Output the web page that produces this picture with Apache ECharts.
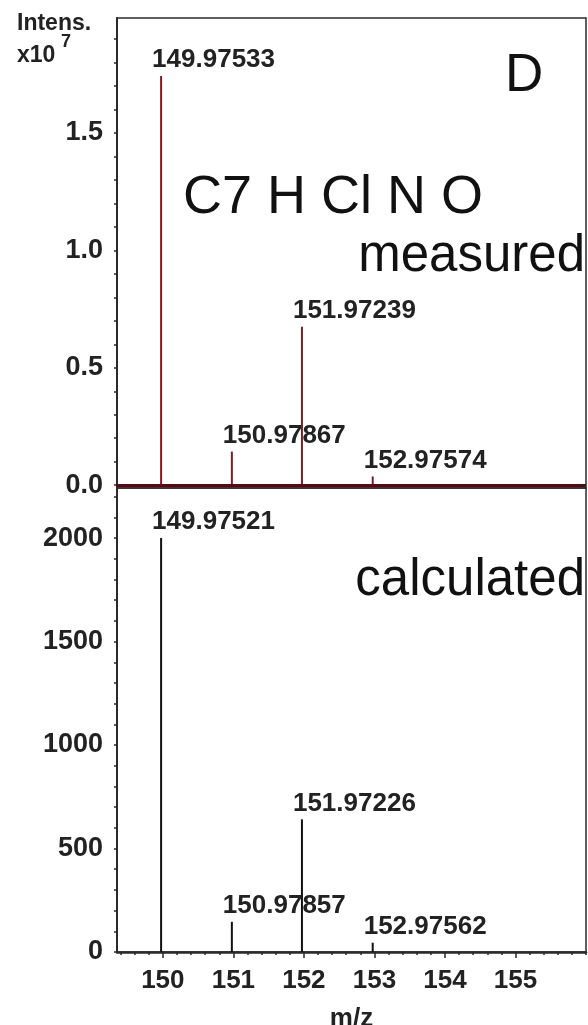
<!DOCTYPE html>
<html>
<head>
<meta charset="utf-8">
<script src="https://cdn.jsdelivr.net/npm/echarts@6/dist/echarts.min.js"></script>
<style>
html,body{margin:0;padding:0;background:#fff;}
#chart{width:588px;height:1025px;}
</style>
</head>
<body>
<div id="chart"></div>
<script>
// ---- data ----
const mzMeasured = [149.97533, 150.97867, 151.97239, 152.97574];
const intMeasured = [1.743, 0.143, 0.675, 0.037]; // x10^7
const mzCalculated = [149.97521, 150.97857, 151.97226, 152.97562];
const intCalculated = [2000, 146, 641, 45];
const xTickLabels = [150, 151, 152, 153, 154, 155];
const yTopTickLabels = [0.0, 0.5, 1.0, 1.5];
const yBottomTickLabels = [0, 500, 1000, 1500, 2000];

// ---- helpers ----
function steps(a, b, s) { const r = []; for (let i = 0; a + i * s <= b + 1e-9; i++) r.push(+(a + i * s).toFixed(4)); return r; }
const X_MIN = 149.35, X_MAX = 156.0;
const FONT = '"Liberation Sans", Arial, sans-serif';
const TXT = '#222';
const AX = '#2a2a2a';

const chart = echarts.init(document.getElementById('chart'), null, {renderer: 'canvas'});
const labelCfg = {
  show: true, position: 'top', distance: 3, align: 'left', offset: [-9, 0],
  fontFamily: FONT, fontSize: 26, fontWeight: 'bold', color: TXT,
  formatter: p => p.value[0].toFixed(5)
};
chart.setOption({
  animation: false,
  backgroundColor: '#fff',
  grid: [
    {left: 117, right: 2, top: 18, height: 470, show: true, borderColor: AX, borderWidth: 1.5, backgroundColor: 'transparent',
      containLabel: false, outerBoundsMode: 'none'},
    {left: 117, right: 2, top: 488, bottom: 73, show: true, borderColor: AX, borderWidth: 1.5, backgroundColor: 'transparent',
      containLabel: false, outerBoundsMode: 'none'}
  ],
  xAxis: [
    {gridIndex: 0, type: 'value', min: X_MIN, max: X_MAX, show: false, splitLine: {show: false}},
    {gridIndex: 1, type: 'value', position: 'bottom', min: X_MIN, max: X_MAX, splitLine: {show: false},
      axisLine: {show: true, onZero: false, lineStyle: {color: AX, width: 2.5}},
      axisTick: {show: true, length: 3, customValues: steps(149.4, 156.0, 0.2), lineStyle: {color: AX, width: 1.5}},
      axisLabel: {show: false}},
    {gridIndex: 1, type: 'value', position: 'bottom', offset: 0, min: X_MIN, max: X_MAX, splitLine: {show: false},
      axisLine: {show: false, onZero: false},
      axisTick: {show: true, length: 6, customValues: xTickLabels, lineStyle: {color: AX, width: 1.5}},
      axisLabel: {show: true, customValues: xTickLabels, margin: 16, fontFamily: FONT, fontSize: 26, fontWeight: 'bold', color: TXT},
      name: 'm/z', nameLocation: 'middle', nameGap: 54,
      nameTextStyle: {fontFamily: FONT, fontSize: 26, fontWeight: 'bold', color: TXT}}
  ],
  yAxis: [
    {gridIndex: 0, type: 'value', min: -0.012, max: 1.99, splitLine: {show: false},
      axisLine: {show: true, onZero: false, lineStyle: {color: AX, width: 2}},
      axisTick: {show: true, length: 3, customValues: steps(0, 1.9, 0.1), lineStyle: {color: AX, width: 1.5}},
      axisLabel: {show: true, customValues: yTopTickLabels, margin: 14, fontFamily: FONT, fontSize: 27, fontWeight: 'bold', color: TXT,
        formatter: v => v.toFixed(1)}},
    {gridIndex: 1, type: 'value', min: 0, max: 2242, splitLine: {show: false},
      axisLine: {show: true, onZero: false, lineStyle: {color: AX, width: 2}},
      axisTick: {show: true, length: 3, customValues: steps(0, 2200, 100), lineStyle: {color: AX, width: 1.5}},
      axisLabel: {show: true, customValues: yBottomTickLabels, margin: 14, fontFamily: FONT, fontSize: 27, fontWeight: 'bold', color: TXT,
        formatter: v => String(v)}}
  ],
  series: [
    {type: 'bar', name: 'measured', xAxisIndex: 0, yAxisIndex: 0, barWidth: 2,
      itemStyle: {color: '#7a1f22'},
      data: mzMeasured.map((m, i) => [m, intMeasured[i]]),
      label: labelCfg,
      markLine: {silent: true, symbol: ['none', 'none'], label: {show: false},
        lineStyle: {color: '#4e0f14', width: 3, type: 'solid'}, data: [{yAxis: 0}]}},
    {type: 'bar', name: 'calculated', xAxisIndex: 1, yAxisIndex: 1, barWidth: 2,
      itemStyle: {color: '#111'},
      data: mzCalculated.map((m, i) => [m, intCalculated[i]]),
      label: labelCfg}
  ],
  graphic: [
    {type: 'text', left: 17, top: 12, style: {text: 'Intens.', font: 'bold 23px ' + FONT, fill: TXT}},
    {type: 'text', left: 17, top: 44, style: {text: 'x10', font: 'bold 23px ' + FONT, fill: TXT}},
    {type: 'text', left: 61, top: 33, style: {text: '7', font: 'bold 18px ' + FONT, fill: TXT}},
    {type: 'text', left: 505, top: 50, style: {text: 'D', font: '53px ' + FONT, fill: '#111'}},
    {type: 'text', left: 183, top: 171, style: {text: 'C7 H Cl N O', font: '54px ' + FONT, fill: '#111'}},
    {type: 'text', right: 3, top: 231, style: {text: 'measured', font: '51px ' + FONT, fill: '#111'}},
    {type: 'text', right: 3, top: 555, style: {text: 'calculated', font: '51px ' + FONT, fill: '#111'}}
  ]
});
</script>
</body>
</html>
